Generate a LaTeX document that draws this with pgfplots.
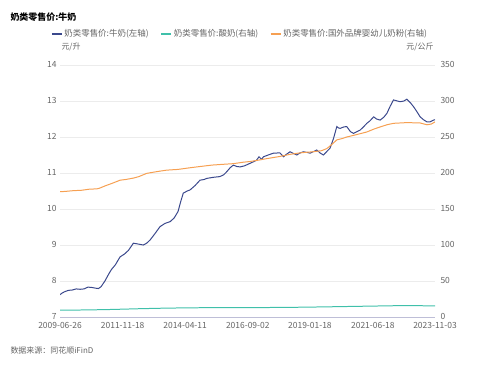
\documentclass[border=0pt]{standalone}
\usepackage{fontspec}
\setmainfont{Noto Sans CJK SC}
\usepackage{pgfplots}
\pgfplotsset{compat=1.18}
\definecolor{milk}{RGB}{58,72,140}
\definecolor{yog}{RGB}{64,192,170}
\definecolor{pow}{RGB}{246,160,82}
\definecolor{tick}{RGB}{100,100,100}
\definecolor{grid}{RGB}{236,236,236}
\definecolor{base}{RGB}{190,190,215}
\begin{document}
\begin{tikzpicture}[x=1bp,y=1bp]
\path[use as bounding box] (-60,-48) rectangle (440,317);
\pgfplotsset{
  common/.style={
    scale only axis, width=375bp, height=252bp,
    at={(0,0)}, anchor=south west,
    xmin=2009.48, xmax=2023.84,
    font=\fontsize{8.5}{10}\selectfont,
    /pgf/number format/assume math mode=true,
    tick style={draw=none},
    ticklabel style={text=tick},
  }
}
\begin{axis}[common,
  ymin=7, ymax=14, ytick={7,8,...,14},
  axis y line*=left, axis x line*=bottom,
  y axis line style={draw=none},
  x axis line style={draw=base, line width=0.8pt},
  ymajorgrids, major grid style={draw=grid, line width=0.5pt},
  xtick={2009.48,2011.88,2014.27,2016.67,2019.05,2021.46,2023.84},
  xticklabels={2009-06-26,2011-11-18,2014-04-11,2016-09-02,2019-01-18,2021-06-18,2023-11-03},
  xticklabel style={yshift=-1.5bp},
  yticklabel style={xshift=0bp, yshift=1bp},
  legend columns=3,
  legend style={at={(-12bp,283bp)}, anchor=west, draw=none, fill=none,
    font=\fontsize{8.5}{10}\selectfont, text=tick,
    /tikz/every even column/.append style={column sep=10bp}},
  legend image code/.code={\draw[#1, line width=1.2pt] (0bp,0bp) -- (10bp,0bp);},
]
\addplot[milk, line width=1pt] coordinates {
(2009.48,7.62)(2009.55,7.66)(2009.65,7.70)(2009.8,7.74)(2009.95,7.75)(2010.1,7.78)
(2010.25,7.77)(2010.4,7.78)(2010.55,7.83)(2010.7,7.82)(2010.85,7.80)(2010.95,7.79)
(2011.05,7.84)(2011.2,8.0)(2011.35,8.2)(2011.45,8.32)(2011.6,8.45)(2011.78,8.67)
(2011.95,8.75)(2012.1,8.85)(2012.29,9.05)(2012.45,9.03)(2012.67,9.0)(2012.8,9.05)
(2012.93,9.14)(2013.1,9.3)(2013.31,9.51)(2013.5,9.6)(2013.7,9.65)(2013.85,9.75)
(2014.0,9.93)(2014.1,10.2)(2014.2,10.44)(2014.35,10.5)(2014.46,10.53)(2014.65,10.65)
(2014.84,10.8)(2015.0,10.82)(2015.1,10.85)(2015.35,10.88)(2015.6,10.9)(2015.75,10.95)
(2015.87,11.04)(2016.0,11.15)(2016.12,11.22)(2016.25,11.18)(2016.38,11.17)(2016.55,11.2)
(2016.76,11.27)(2017.0,11.35)(2017.1,11.45)(2017.2,11.38)(2017.27,11.45)(2017.45,11.5)
(2017.65,11.55)(2017.9,11.56)(2018.04,11.45)(2018.15,11.52)(2018.29,11.59)(2018.4,11.55)
(2018.55,11.5)(2018.65,11.55)(2018.8,11.59)(2018.95,11.57)(2019.06,11.55)(2019.2,11.6)
(2019.31,11.64)(2019.45,11.55)(2019.57,11.5)(2019.7,11.6)(2019.82,11.69)(2019.95,11.95)
(2020.08,12.29)(2020.15,12.25)(2020.21,12.24)(2020.35,12.28)(2020.46,12.29)(2020.6,12.15)
(2020.72,12.1)(2020.85,12.15)(2020.97,12.19)(2021.1,12.28)(2021.23,12.38)(2021.35,12.45)
(2021.49,12.56)(2021.6,12.5)(2021.74,12.47)(2021.88,12.55)(2022.0,12.66)(2022.12,12.85)
(2022.25,13.03)(2022.4,13.0)(2022.51,12.98)(2022.65,13.0)(2022.76,13.05)(2022.9,12.95)
(2023.02,12.84)(2023.15,12.7)(2023.27,12.56)(2023.4,12.48)(2023.53,12.42)(2023.65,12.42)
(2023.78,12.47)(2023.84,12.48)
};
\addlegendentry{奶类零售价:牛奶(左轴)}
\addlegendimage{yog}
\addlegendentry{奶类零售价:酸奶(右轴)}
\addlegendimage{pow}
\addlegendentry{奶类零售价:国外品牌婴幼儿奶粉(右轴)}
\end{axis}
\begin{axis}[common,
  ymin=0, ymax=350, ytick={0,50,...,350},
  axis y line*=right, axis x line=none,
  y axis line style={draw=none},
  yticklabel style={xshift=2bp, yshift=1bp},
]
\addplot[yog, line width=1pt] coordinates {
(2009.48,9.5)(2010.5,9.8)(2011.5,10.5)(2012.5,11.5)(2013.5,12.3)(2014.5,12.8)
(2015.5,13)(2016.5,13)(2017.5,13.2)(2018.5,13.5)(2019.5,14)(2020.5,14.6)
(2021.5,15.2)(2022.5,15.8)(2023.0,15.9)(2023.84,15.3)
};
\addplot[pow, line width=1pt] coordinates {
(2009.48,174)(2009.7,174.5)(2010.0,175.5)(2010.3,176)(2010.6,177.5)(2010.9,178)
(2011.0,179)(2011.2,182)(2011.5,186)(2011.78,190)(2012.0,191)(2012.3,193)
(2012.5,195)(2012.8,199.5)(2013.2,202)(2013.57,204)(2014.0,205)(2014.4,207)
(2014.84,209)(2015.3,211)(2015.7,212)(2016.12,213)(2016.5,215)(2016.76,216)
(2017.1,218)(2017.4,220)(2017.9,223)(2018.3,226)(2018.68,228)(2019.19,229.6)
(2019.5,231)(2019.7,234)(2019.9,240)(2020.08,246)(2020.3,248)(2020.46,250)
(2020.8,253)(2021.23,257)(2021.5,261)(2021.74,264)(2022.0,267)(2022.25,269)
(2022.76,270)(2023.27,269.5)(2023.53,267)(2023.7,268)(2023.84,271)
};
\end{axis}
\node[anchor=west, font=\fontsize{9}{10}\selectfont\bfseries] at (-53,300) {奶类零售价:牛奶};
\node[anchor=west, text=tick, font=\fontsize{8}{10}\selectfont] at (-2,270) {元/升};
\node[anchor=east, text=tick, font=\fontsize{8}{10}\selectfont] at (377,270) {元/公斤};
\node[anchor=west, text=tick, font=\fontsize{8}{10}\selectfont] at (-53,-33) {数据来源：同花顺iFinD};
\end{tikzpicture}
\end{document}
